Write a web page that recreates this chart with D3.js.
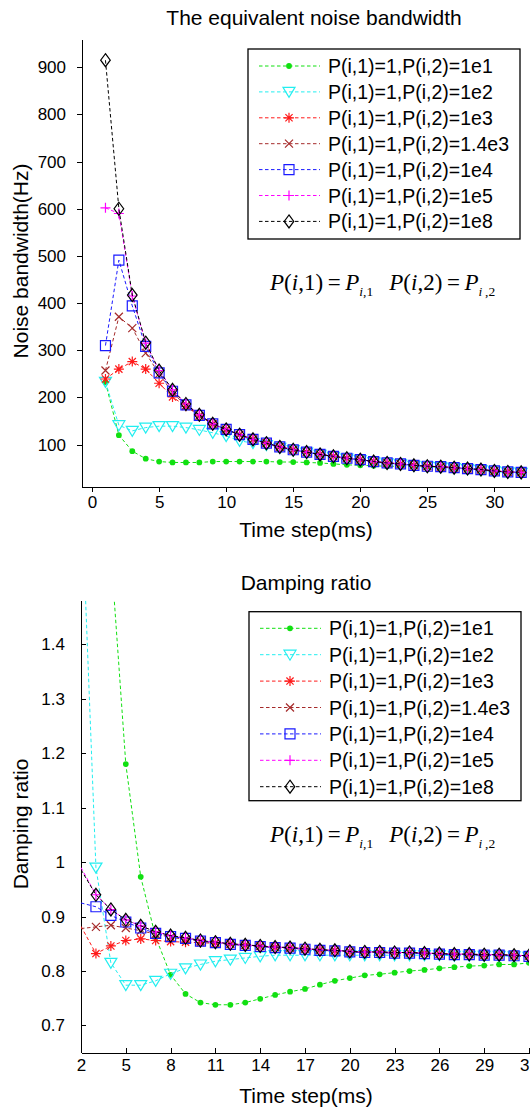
<!DOCTYPE html>
<meta charset="utf-8">
<style>
	body {
		margin: 0;
		background: #fff;
	}
	svg {
		font-family: "Liberation Sans", Arial, sans-serif;
	}
	.axis path,
	.axis line {
		fill: none;
		stroke: #000;
		shape-rendering: crispEdges;
	}
	.axis text {
		font-size: 17px;
		fill: #000;
	}
	.formula {
		font-family: "Liberation Serif", "Times New Roman", serif;
		font-size: 23px;
	}
</style>

<body>
	<script src="https://d3js.org/d3.v7.min.js"></script>
	<script>
		// legend labels, colours and marker kinds (same for both panels)
		var seriesNames = [
			"P(i,1)=1,P(i,2)=1e1",
			"P(i,1)=1,P(i,2)=1e2",
			"P(i,1)=1,P(i,2)=1e3",
			"P(i,1)=1,P(i,2)=1.4e3",
			"P(i,1)=1,P(i,2)=1e4",
			"P(i,1)=1,P(i,2)=1e5",
			"P(i,1)=1,P(i,2)=1e8"
		];
		var seriesColors = ["#11e011", "#22eef0", "#ff1a1a", "#a52a2a", "#1a1aff", "#ff00ff", "#000000"];
		var seriesMarkers = ["dot", "tri", "star", "x", "square", "plus", "diamond"];

		// top panel: equivalent noise bandwidth (Hz)
		var stepsTop = [1, 2, 3, 4, 5, 6, 7, 8, 9, 10, 11, 12, 13, 14, 15, 16, 17, 18, 19, 20, 21, 22, 23, 24, 25, 26, 27, 28, 29, 30, 31, 32];
		var xTicksTop = [0, 5, 10, 15, 20, 25, 30];
		var yTicksTop = [100, 200, 300, 400, 500, 600, 700, 800, 900];
		var bw1e1 = [232, 120, 86, 70, 64, 62, 62, 62, 64, 64, 64, 64, 64, 63, 63, 62, 61, 59, 57, 56, 55, 54, 54, 53, 53, 52, 50, 48, 46, 43, 42, 41];
		var bw1e2 = [233, 141, 129, 136, 139, 139, 136, 131, 125, 118, 108, 103, 99, 93, 88, 83, 78, 74, 70, 67, 63, 60, 58, 55, 53, 52, 50, 48, 46, 43, 41, 40];
		var bw1e3 = [239, 260, 276, 260, 230, 201, 181, 161, 143, 131, 121, 111, 103, 95, 89, 84, 79, 75, 71, 68, 64, 61, 59, 56, 54, 53, 51, 49, 47, 44, 42, 41];
		var bw14e3 = [257, 371, 347, 294, 250, 210, 183, 161, 143, 132, 121, 111, 103, 95, 89, 84, 79, 75, 71, 68, 64, 61, 59, 56, 54, 53, 51, 49, 47, 44, 42, 41];
		var bw1e4 = [310, 491, 394, 308, 252, 213, 184, 162, 144, 132, 121, 111, 103, 95, 89, 84, 79, 75, 71, 68, 64, 61, 59, 56, 54, 53, 51, 49, 47, 44, 42, 41];
		var bw1e5 = [602, 590, 415, 315, 257, 216, 186, 163, 144, 132, 121, 111, 103, 95, 89, 84, 79, 75, 71, 68, 64, 61, 59, 56, 54, 53, 51, 49, 47, 44, 42, 41];
		var bw1e8 = [915, 600, 417, 316, 257, 216, 186, 163, 144, 132, 121, 111, 103, 95, 89, 84, 79, 75, 71, 68, 64, 61, 59, 56, 54, 53, 51, 49, 47, 44, 42, 41];

		// bottom panel: damping ratio
		var stepsBottom = [2, 3, 4, 5, 6, 7, 8, 9, 10, 11, 12, 13, 14, 15, 16, 17, 18, 19, 20, 21, 22, 23, 24, 25, 26, 27, 28, 29, 30, 31, 32];
		var xTicksBottom = [2, 5, 8, 11, 14, 17, 20, 23, 26, 29, 32];
		var yTicksBottom = [0.7, 0.8, 0.9, 1, 1.1, 1.2, 1.3, 1.4];
		var dr1e1 = [2.6, 1.95, 1.57, 1.18, 0.973, 0.862, 0.793, 0.758, 0.742, 0.738, 0.738, 0.742, 0.749, 0.756, 0.762, 0.767, 0.775, 0.782, 0.787, 0.792, 0.794, 0.797, 0.8, 0.802, 0.805, 0.807, 0.809, 0.81, 0.812, 0.812, 0.815];
		var dr1e2 = [1.7, 0.99, 0.815, 0.774, 0.774, 0.782, 0.795, 0.805, 0.812, 0.818, 0.821, 0.824, 0.827, 0.829, 0.829, 0.829, 0.829, 0.829, 0.829, 0.829, 0.829, 0.829, 0.829, 0.829, 0.829, 0.828, 0.828, 0.828, 0.828, 0.827, 0.826];
		var dr1e3 = [0.882, 0.832, 0.846, 0.856, 0.859, 0.856, 0.854, 0.853, 0.852, 0.851, 0.849, 0.847, 0.845, 0.843, 0.842, 0.840, 0.838, 0.837, 0.835, 0.834, 0.834, 0.833, 0.833, 0.832, 0.831, 0.830, 0.830, 0.829, 0.829, 0.828, 0.827];
		var dr14e3 = [0.878, 0.881, 0.884, 0.879, 0.874, 0.868, 0.862, 0.858, 0.855, 0.852, 0.850, 0.848, 0.846, 0.844, 0.843, 0.841, 0.839, 0.838, 0.836, 0.835, 0.835, 0.834, 0.834, 0.833, 0.832, 0.831, 0.831, 0.830, 0.830, 0.829, 0.828];
		var dr1e4 = [0.925, 0.918, 0.902, 0.89, 0.879, 0.869, 0.863, 0.86, 0.855, 0.852, 0.849, 0.847, 0.845, 0.843, 0.842, 0.840, 0.838, 0.837, 0.835, 0.834, 0.834, 0.833, 0.833, 0.832, 0.831, 0.830, 0.830, 0.829, 0.829, 0.828, 0.827];
		var dr1e5 = [0.99, 0.94, 0.913, 0.894, 0.883, 0.872, 0.865, 0.861, 0.856, 0.853, 0.85, 0.848, 0.846, 0.844, 0.843, 0.841, 0.839, 0.838, 0.836, 0.835, 0.835, 0.834, 0.834, 0.833, 0.832, 0.831, 0.831, 0.830, 0.830, 0.829, 0.828];
		var dr1e8 = [0.986, 0.94, 0.913, 0.894, 0.883, 0.872, 0.865, 0.861, 0.856, 0.853, 0.85, 0.848, 0.846, 0.844, 0.843, 0.841, 0.839, 0.838, 0.836, 0.835, 0.835, 0.834, 0.834, 0.833, 0.832, 0.831, 0.831, 0.830, 0.830, 0.829, 0.828];

		var svg = d3.select("body").append("svg")
			.attr("width", 530)
			.attr("height", 1110);

		function markerPath(kind) {
			switch (kind) {
				case "dot": return d3.symbol(d3.symbolCircle, 26)();
				case "tri": return "M-6,-4.5L6,-4.5L0,5.5Z";
				case "star": return "M-5,0H5M0,-5V5M-3.6,-3.6L3.6,3.6M-3.6,3.6L3.6,-3.6";
				case "x": return "M-4,-4L4,4M-4,4L4,-4";
				case "square": return "M-5,-5H5V5H-5Z";
				case "plus": return "M-5,0H5M0,-5V5";
				case "diamond": return "M0,-6.5L4.8,0L0,6.5L-4.8,0Z";
			}
		}

		function addMarker(sel, k) {
			sel.append("path")
				.attr("d", markerPath(seriesMarkers[k]))
				.style("fill", seriesMarkers[k] == "dot" ? seriesColors[k] : "none")
				.style("stroke", seriesColors[k])
				.style("stroke-width", seriesMarkers[k] == "dot" ? 0 : 1.2);
		}

		function drawPanel(o) {
			var x = o.x, y = o.y;
			var x0 = x.range()[0], x1 = x.range()[1];
			var yb = y.range()[0], yt = y.range()[1];

			svg.append("clipPath").attr("id", o.id)
				.append("rect")
				.attr("x", x0).attr("y", yt)
				.attr("width", x1 - x0).attr("height", yb - yt);

			var tick = o.tickIn ? -5 : 5;

			svg.append("g")
				.attr("class", "axis")
				.attr("transform", "translate(0," + yb + ")")
				.call(d3.axisBottom(x).tickValues(o.xTicks).tickSizeInner(tick).tickSizeOuter(0).tickPadding(o.tickIn ? 6 : 4));

			svg.append("g")
				.attr("class", "axis")
				.attr("transform", "translate(" + x0 + ",0)")
				.call(d3.axisLeft(y).tickValues(o.yTicks).tickFormat(d3.format("")).tickSizeInner(tick).tickSizeOuter(0).tickPadding(o.tickIn ? 16 : 11));

			svg.append("text")
				.attr("x", o.titleX).attr("y", o.titleY)
				.style("text-anchor", "middle")
				.style("font-size", "21px")
				.text(o.title);

			svg.append("text")
				.attr("x", 306).attr("y", o.xLabelY)
				.style("text-anchor", "middle")
				.style("font-size", "21px")
				.text("Time step(ms)");

			svg.append("text")
				.attr("transform", "translate(28," + o.yLabelMid + ") rotate(-90)")
				.style("text-anchor", "middle")
				.style("font-size", "21px")
				.text(o.yLabel);

			var plot = svg.append("g").attr("clip-path", "url(#" + o.id + ")");
			var line = d3.line()
				.x(function(d) { return x(d.x); })
				.y(function(d) { return y(d.y); });

			o.series.forEach(function(vals, k) {
				var pts = o.steps.map(function(s, i) { return {x: s, y: vals[i]}; });
				plot.append("path")
					.datum(pts)
					.attr("d", line)
					.style("fill", "none")
					.style("stroke", seriesColors[k])
					.style("stroke-width", 1)
					.style("stroke-dasharray", "3.5,2.5");
				plot.selectAll(null)
					.data(pts.filter(function(d) { return d.x > x.domain()[0]; }))
					.enter().append("g")
					.attr("transform", function(d) { return "translate(" + x(d.x) + "," + y(d.y) + ")"; })
					.each(function() { addMarker(d3.select(this), k); });
			});

			// legend
			var lg = svg.append("g").attr("transform", "translate(" + o.legend[0] + "," + o.legend[1] + ")");
			lg.append("rect")
				.attr("width", o.legend[2]).attr("height", o.legend[3])
				.style("fill", "#fff").style("stroke", "#000").style("stroke-width", 1.3);
			seriesNames.forEach(function(name, k) {
				var row = lg.append("g").attr("transform", "translate(0," + (o.legendRow0 + k * o.legendStep) + ")");
				row.append("line")
					.attr("x1", 11).attr("x2", 72)
					.style("stroke", seriesColors[k]).style("stroke-width", 1)
					.style("stroke-dasharray", "3.5,2.5");
				addMarker(row.append("g").attr("transform", "translate(41,0)"), k);
				row.append("text")
					.attr("x", 80).attr("dy", "0.36em")
					.style("font-size", "19.5px")
					.text(name);
			});

			// formula note
			var f = svg.append("text").attr("class", "formula")
				.attr("x", 270).attr("y", o.formulaY)
				.style("white-space", "pre");
			f.append("tspan").style("font-style", "italic").text("P");
			f.append("tspan").text("(");
			f.append("tspan").style("font-style", "italic").text("i");
			f.append("tspan").text(",1)\u2009=\u2009");
			f.append("tspan").style("font-style", "italic").text("P");
			f.append("tspan").attr("dy", 6).style("font-size", "13.5px").style("font-style", "italic").text("i");
			f.append("tspan").style("font-size", "13.5px").text(",1");
			f.append("tspan").attr("dy", -6).text("\u00a0\u00a0\u2009");
			f.append("tspan").style("font-style", "italic").text("P");
			f.append("tspan").text("(");
			f.append("tspan").style("font-style", "italic").text("i");
			f.append("tspan").text(",2)\u2009=\u2009");
			f.append("tspan").style("font-style", "italic").text("P");
			f.append("tspan").attr("dy", 6).style("font-size", "13.5px").style("font-style", "italic").text("i");
			f.append("tspan").style("font-size", "13.5px").text("\u2009,2");
		}

		drawPanel({
			id: "clipTop",
			x: d3.scaleLinear().domain([-0.75, 33]).range([82, 534.6]),
			y: d3.scaleLinear().domain([10, 960]).range([487, 39]),
			xTicks: xTicksTop,
			yTicks: yTicksTop,
			tickIn: false,
			steps: stepsTop,
			series: [bw1e1, bw1e2, bw1e3, bw14e3, bw1e4, bw1e5, bw1e8],
			title: "The equivalent noise bandwidth",
			titleX: 314, titleY: 25,
			xLabelY: 537,
			yLabel: "Noise bandwidth(Hz)",
			yLabelMid: 261,
			legend: [248, 49, 272, 190],
			legendRow0: 17, legendStep: 25.9,
			formulaY: 290
		});

		drawPanel({
			id: "clipBottom",
			x: d3.scaleLinear().domain([2, 32]).range([81, 529]),
			y: d3.scaleLinear().domain([0.65, 1.48]).range([1052.7, 600.7]),
			xTicks: xTicksBottom,
			yTicks: yTicksBottom,
			tickIn: true,
			steps: stepsBottom,
			series: [dr1e1, dr1e2, dr1e3, dr14e3, dr1e4, dr1e5, dr1e8],
			title: "Damping ratio",
			titleX: 306, titleY: 590,
			xLabelY: 1103,
			yLabel: "Damping ratio",
			yLabelMid: 824,
			legend: [249, 611.7, 272, 189],
			legendRow0: 16.6, legendStep: 26.4,
			formulaY: 842
		});
	</script>
</body>
